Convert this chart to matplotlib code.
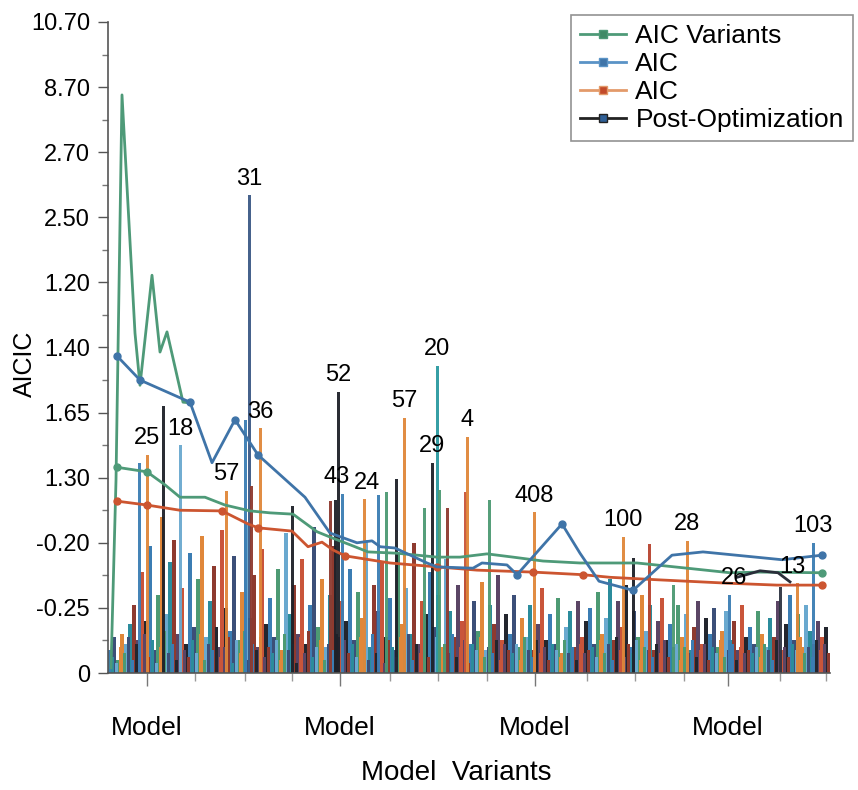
"""AIC variant comparison: tall labelled bars over a dense bar forest, plus trend lines"""

import numpy as np
import matplotlib
matplotlib.use("Agg")
import matplotlib.pyplot as plt
from matplotlib.lines import Line2D

plt.rcParams['font.family'] = ['Liberation Sans', 'DejaVu Sans']

ytick_labels = ['0', '-0.25', '-0.20', '1.30', '1.65', '1.40', '1.20', '2.50', '2.70', '8.70', '10.70']
xtick_major = [147, 340, 535, 728]
xtick_minor = [195, 245, 292, 390, 438, 487, 587, 635, 684, 780, 826]
xtick_labels = ['Model', 'Model', 'Model', 'Model']

# lines (x, value on the ranked scale)
spike_x = [111, 116, 122, 135, 140, 152, 160, 167, 183, 190]
spike_y = [0.08, 2.96, 8.88, 5.22, 4.42, 6.11, 4.93, 5.24, 4.16, 4.15]

variants_x = [117, 147, 165, 180, 205, 225, 250, 270, 293, 317, 333, 350, 368, 397, 437,
              460, 487, 513, 543, 580, 637, 687, 730, 760, 822]
variants_y = [3.16, 3.09, 2.89, 2.70, 2.70, 2.58, 2.49, 2.46, 2.44, 2.17, 2.07, 1.97, 1.86, 1.84, 1.78,
              1.78, 1.83, 1.78, 1.72, 1.69, 1.69, 1.61, 1.54, 1.55, 1.54]

aic_x = [117, 140, 190, 212, 235, 258, 305, 330, 357, 372, 380, 395, 427, 437, 473,
         482, 507, 517, 562, 580, 599, 633, 672, 703, 782, 822]
aic_y = [4.87, 4.50, 4.16, 3.23, 3.89, 3.35, 2.70, 2.15, 2.00, 2.03, 1.94, 1.92, 1.69, 1.63, 1.61,
         1.69, 1.66, 1.51, 2.29, 1.84, 1.41, 1.27, 1.81, 1.86, 1.74, 1.81]

aic2_x = [117, 147, 180, 222, 248, 258, 292, 308, 322, 333, 345, 390, 437, 477, 533,
          583, 610, 660, 727, 777, 822]
aic2_y = [2.64, 2.58, 2.50, 2.49, 2.29, 2.23, 2.18, 1.94, 2.01, 1.89, 1.80, 1.69, 1.63, 1.58, 1.55,
          1.51, 1.47, 1.43, 1.38, 1.35, 1.35]

post_x = [737, 760, 778, 790]
post_y = [1.47, 1.57, 1.54, 1.40]

# tall bars
tall_x = [139, 147, 163, 180, 226, 245, 249, 251, 260, 292, 330, 335, 338, 342, 364, 378, 386, 396, 404,
          424, 432, 437, 439, 447, 465, 467, 489, 534, 623, 633, 649, 673, 687, 729, 780, 797, 813]
tall_h = [3.23, 3.35, 4.10, 3.50, 2.80, 3.89, 7.34, 2.87, 3.76, 2.57, 2.64, 2.66, 4.32, 2.75, 2.67, 2.73, 2.78, 2.98, 3.92,
          2.53, 3.23, 4.72, 2.81, 2.53, 2.78, 3.63, 2.66, 2.47, 2.09, 1.77, 1.98, 1.35, 2.03, 1.20, 1.32, 1.38, 2.00]
tall_lbl = ['', '25', '', '18', '57', '', '31', '', '36', '', '', '', '52', '43', '24', '', '', '', '57',
            '', '29', '20', '', '', '', '4', '', '408', '100', '', '', '', '28', '26', '', '13', '103']
tall_c = ['#3b7db3', '#e0873a', '#1e2129', '#6aa9cf', '#e0873a', '#3b7db3', '#3c5a86', '#8e3a2f', '#e0873a',
          '#1e2129', '#8e3a2f', '#1e2129', '#1e2129', '#3b7db3', '#e0873a', '#3b7db3', '#4d9a73', '#1e2129',
          '#e0873a', '#4d9a73', '#1e2129', '#2b9aa0', '#4d9a73', '#8e3a2f', '#c9553a', '#e0873a', '#4d9a73',
          '#e0873a', '#e0873a', '#1e2129', '#b8432f', '#4d9a73', '#e0873a', '#3b7db3', '#2e3442', '#e0873a',
          '#3b7db3']
# horizontal nudges (points) for labels that would collide
LABEL_NUDGE = {'43': -4, '24': 2, '26': 4, '13': -3}

# background bar forest, one value every 4 px from x=110
forest_h = [
    0.35, 0.55, 0.20, 0.60, 0.45, 0.75, 1.05, 0.50, 1.55, 0.80, 1.95, 0.35, 1.20, 2.40, 0.90, 1.70, 2.05, 0.60, 1.30, 0.45,
    1.85, 0.70, 1.45, 2.10, 0.55, 1.10, 1.65, 0.40, 2.20, 1.00, 0.65, 1.80, 0.50, 1.25, 2.30, 0.85, 1.50, 0.40, 1.90, 0.75,
    1.15, 0.55, 1.60, 0.35, 2.15, 0.90, 1.35, 0.60, 1.75, 0.45, 1.05, 2.25, 0.70, 1.45, 0.40, 1.20, 1.95, 0.55, 1.10, 0.80,
    1.60, 0.50, 1.25, 0.85, 2.05, 0.40, 1.35, 0.95, 1.70, 0.55, 1.15, 0.35, 1.85, 0.75, 1.30, 0.60, 2.00, 0.45, 1.10, 0.90,
    1.55, 0.70, 1.20, 0.40, 1.75, 0.95, 0.55, 1.35, 0.80, 1.60, 0.45, 1.10, 0.65, 1.40, 0.35, 1.05, 0.75, 1.50, 0.50, 0.90,
    0.60, 1.20, 0.40, 0.85, 0.55, 1.05, 0.35, 0.75, 1.30, 0.50, 0.90, 0.45, 1.15, 0.30, 0.70, 0.95, 0.40, 1.10, 0.55, 0.80,
    1.00, 0.45, 1.25, 0.60, 0.85, 1.45, 0.50, 1.10, 0.70, 1.35, 0.40, 0.95, 0.55, 1.20, 0.65, 1.05, 0.35, 0.80, 1.15, 0.50,
    0.75, 0.40, 1.05, 0.55, 0.90, 0.35, 0.70, 1.10, 0.45, 0.85, 0.60, 1.00, 0.40, 0.65, 0.95, 0.50, 0.80, 0.35, 1.05, 0.55,
    0.70, 0.45, 0.95, 0.60, 0.40, 0.85, 0.55, 1.10, 0.35, 0.75, 1.20, 0.50, 0.90, 0.40, 1.05, 0.65, 0.45, 0.80, 0.55, 0.70,
]
forest_low = [
    0.25, 0.15, 0.40, 0.30, 0.55, 0.20, 0.45, 0.35, 0.60, 0.25, 0.50, 0.15, 0.40, 0.65, 0.30, 0.45, 0.20, 0.55, 0.35, 0.25,
    0.50, 0.30, 0.60, 0.20, 0.45, 0.35, 0.70, 0.25, 0.40, 0.55, 0.15, 0.50, 0.30, 0.65, 0.20, 0.45, 0.35, 0.55, 0.25, 0.40,
    0.30, 0.50, 0.20, 0.60, 0.35, 0.45, 0.15, 0.55, 0.30, 0.65, 0.25, 0.40, 0.50, 0.20, 0.45, 0.35, 0.60, 0.25, 0.50, 0.30,
    0.45, 0.25, 0.55, 0.35, 0.20, 0.60, 0.30, 0.45, 0.15, 0.50, 0.40, 0.25, 0.55, 0.35, 0.60, 0.20, 0.45, 0.30, 0.50, 0.25,
    0.35, 0.55, 0.20, 0.45, 0.30, 0.60, 0.25, 0.40, 0.50, 0.15, 0.45, 0.35, 0.55, 0.25, 0.40, 0.30, 0.50, 0.20, 0.45, 0.35,
    0.30, 0.45, 0.20, 0.55, 0.35, 0.25, 0.50, 0.30, 0.40, 0.20, 0.45, 0.35, 0.25, 0.50, 0.30, 0.40, 0.20, 0.45, 0.30, 0.35,
    0.40, 0.25, 0.50, 0.30, 0.45, 0.20, 0.55, 0.35, 0.25, 0.45, 0.30, 0.50, 0.20, 0.40, 0.35, 0.25, 0.45, 0.30, 0.50, 0.25,
    0.35, 0.45, 0.20, 0.40, 0.30, 0.50, 0.25, 0.35, 0.45, 0.20, 0.40, 0.30, 0.50, 0.25, 0.35, 0.45, 0.20, 0.40, 0.30, 0.35,
    0.30, 0.40, 0.25, 0.45, 0.35, 0.20, 0.50, 0.30, 0.40, 0.25, 0.45, 0.35, 0.55, 0.30, 0.40, 0.25, 0.50, 0.35, 0.45, 0.30,
]

PALETTE = ['#3b7db3', '#e0873a', '#8e3a2f', '#23262e', '#4d9a73', '#2b8c9c',
           '#c9553a', '#3c4f78', '#6aa9cf', '#5b4565']
GREEN, BLUE, RED = '#4e9a78', '#3f74a8', '#cc5530'

fig = plt.figure(figsize=(8.58, 7.9), dpi=100)
ax = fig.add_axes([108 / 858, 117 / 790, 722 / 858, 651 / 790])

# forest
xs = 110 + 4 * np.arange(len(forest_h))
ax.bar(xs, forest_h, width=3.6, color=[PALETTE[(i * 7) % 10] for i in range(len(xs))],
       linewidth=0, zorder=1)
ax.bar(xs + 2, forest_low, width=3.0, color=[PALETTE[(i * 3 + 5) % 10] for i in range(len(xs))],
       linewidth=0, zorder=1.5)

# tall bars with labels
ax.bar(tall_x, tall_h, width=3.0, color=tall_c, alpha=0.95, linewidth=0, zorder=2)
for x, h, s in zip(tall_x, tall_h, tall_lbl):
    if s:
        ax.annotate(s, (x, h), xytext=(LABEL_NUDGE.get(s, 0), 4), textcoords='offset points',
                    ha='center', va='bottom', fontsize=17, zorder=5)

# lines
lw = 2.0
ax.plot(spike_x, spike_y, color=GREEN, lw=lw, zorder=3)
ax.plot(variants_x, variants_y, color=GREEN, lw=lw, marker='o', ms=5,
        markevery=[0, 1, len(variants_x) - 1], zorder=3)
ax.plot(aic_x, aic_y, color=BLUE, lw=lw, marker='o', ms=5,
        markevery=[0, 1, 2, 4, 5, 17, 18, 21, 25], zorder=3.2)
ax.plot(aic2_x, aic2_y, color=RED, lw=lw, marker='o', ms=5,
        markevery=[0, 1, 3, 5, 10, 12, 14, 15, 20], zorder=3.1)
ax.plot(post_x, post_y, color='#2a2f3a', lw=lw, zorder=3.3)

ax.set_xlim(108, 830)
ax.set_ylim(0, 10)

ax.set_yticks(range(11))
ax.set_yticklabels(ytick_labels)
ax.set_yticks(np.arange(0.5, 10, 1), minor=True)
ax.set_xticks(xtick_major)
ax.set_xticklabels(xtick_labels)
ax.set_xticks(xtick_minor, minor=True)

ax.tick_params(axis='y', which='major', length=7, width=1, color='#555555', labelsize=17, pad=6)
ax.tick_params(axis='y', which='minor', length=4, width=1, color='#777777')
ax.tick_params(axis='x', which='major', length=9, width=1, color='#777777', labelsize=19, pad=22)
ax.tick_params(axis='x', which='minor', length=6, width=1, color='#999999')

for side in ['top', 'right']:
    ax.spines[side].set_visible(False)
for side in ['left', 'bottom']:
    ax.spines[side].set_color('#555555')
    ax.spines[side].set_linewidth(1.2)

fig.text(456 / 858, 1 - 773 / 790, 'Model  Variants', ha='center', va='center', fontsize=20)
fig.text(25 / 858, 1 - 364 / 790, 'AICIC', ha='center', va='center', rotation=90, fontsize=18)

handles = [
    Line2D([], [], color=GREEN, lw=2, marker='s', ms=6, markerfacecolor='#3f8a66'),
    Line2D([], [], color='#5a93c6', lw=2, marker='s', ms=6, markerfacecolor=BLUE),
    Line2D([], [], color='#e39a6a', lw=2, marker='s', ms=6, markerfacecolor='#c24a2a'),
    Line2D([], [], color='#222222', lw=2, marker='s', ms=6, markerfacecolor='#2f5f96'),
]
leg = ax.legend(handles, ['AIC Variants', 'AIC', 'AIC', 'Post-Optimization'],
                loc='upper right', bbox_to_anchor=(853 / 858, 1 - 15 / 790),
                bbox_transform=fig.transFigure, fontsize=19, frameon=True, fancybox=False,
                borderpad=0.35, labelspacing=0.15, handlelength=1.75, handletextpad=0.35,
                borderaxespad=0)
leg.get_frame().set_edgecolor('#777777')
leg.get_frame().set_linewidth(1.2)

fig.savefig('out.png', dpi=100)
